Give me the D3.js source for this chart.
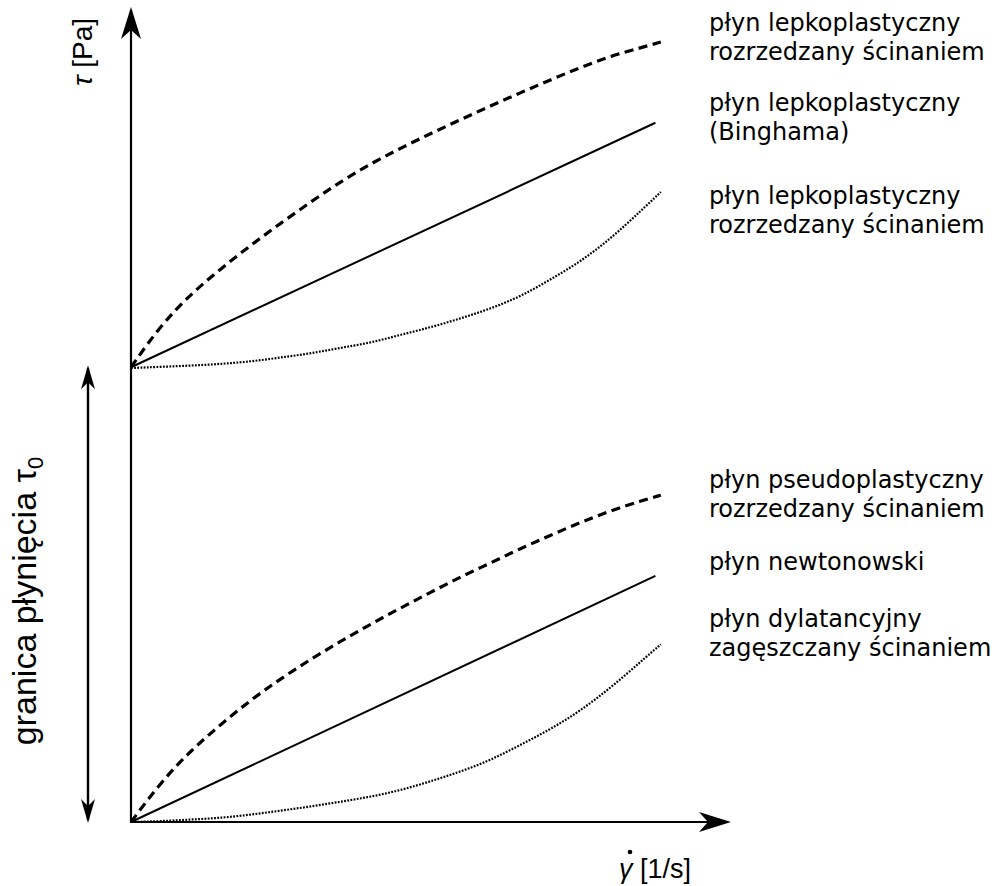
<!DOCTYPE html>
<html>
<head>
<meta charset="utf-8">
<script src="https://cdn.jsdelivr.net/npm/d3@7"></script>
<style>
  body { margin: 0; background: #fff; }
  svg { display: block; }
</style>
</head>
<body>
<svg></svg>
<script>
// shear rate grid (arbitrary units) shared by the curved series
let gammaGrid = [0, 0.5, 1, 1.5, 2, 2.5, 3, 3.5, 4, 4.5, 5, 5.5, 6, 6.5, 7, 7.5, 8, 8.5, 8.83];
let gammaLinear = [0, 8.74];

// shear stress values
let tauViscoplasticThinning = [5.58, 6.10, 6.48, 6.79, 7.08, 7.35, 7.61, 7.86, 8.08, 8.27, 8.45, 8.62, 8.79, 8.95, 9.11, 9.26, 9.40, 9.50, 9.57];
let tauBingham = [5.58, 8.58];
let tauViscoplasticThickening = [5.57, 5.585, 5.60, 5.62, 5.65, 5.70, 5.75, 5.82, 5.88, 5.98, 6.07, 6.18, 6.30, 6.45, 6.66, 6.88, 7.16, 7.50, 7.73];
let tauPseudoplastic = [0, 0.49, 0.88, 1.20, 1.50, 1.76, 2.00, 2.22, 2.43, 2.63, 2.82, 3.01, 3.18, 3.36, 3.52, 3.68, 3.82, 3.94, 4.01];
let tauNewtonian = [0, 3.02];
let tauDilatant = [0, 0.01, 0.03, 0.05, 0.09, 0.14, 0.19, 0.25, 0.31, 0.39, 0.50, 0.62, 0.76, 0.95, 1.14, 1.37, 1.65, 1.97, 2.18];

let tauYield = 5.58;
let axisMax = 10;

// labels, one array of lines per curve
let labelLines = [
    ["płyn lepkoplastyczny", "rozrzedzany ścinaniem"],
    ["płyn lepkoplastyczny", "(Binghama)"],
    ["płyn lepkoplastyczny", "rozrzedzany ścinaniem"],
    ["płyn pseudoplastyczny", "rozrzedzany ścinaniem"],
    ["płyn newtonowski"],
    ["płyn dylatancyjny", "zagęszczany ścinaniem"]
];
let labelBaselines = [31, 111, 204, 488, 570, 627];

let width = 1004;
let height = 886;

let svg = d3.select("svg")
    .attr("width", width)
    .attr("height", height);

let xScale = d3.scaleLinear().domain([0, axisMax]).range([131, 731]);
let yScale = d3.scaleLinear().domain([0, axisMax]).range([822, 7]);

let defs = svg.append("defs");

// arrow tip sits 3px past the end of the line so the stroke never pokes out
let makeArrow = (id, len, half, notch) => {
    defs.append("marker")
        .attr("id", id)
        .attr("markerUnits", "userSpaceOnUse")
        .attr("viewBox", (-len - 2) + " " + (-half - 2) + " " + (len + 4) + " " + (2 * half + 4))
        .attr("markerWidth", len + 4)
        .attr("markerHeight", 2 * half + 4)
        .attr("refX", -3)
        .attr("refY", 0)
        .attr("orient", "auto-start-reverse")
        .append("path")
        .attr("d", "M0,0L" + (-len) + "," + (-half) + "L" + (-notch) + ",0L" + (-len) + "," + half + "Z")
        .attr("fill", "#000");
};
makeArrow("bigArrow", 32, 10, 23);
makeArrow("smallArrow", 24, 7, 17);

// axes
svg.append("line")
    .attr("x1", xScale(0) - 1).attr("y1", yScale(0))
    .attr("x2", xScale(axisMax) - 3).attr("y2", yScale(0))
    .attr("stroke", "#000").attr("stroke-width", 2.2)
    .attr("marker-end", "url(#bigArrow)");

svg.append("line")
    .attr("x1", xScale(0)).attr("y1", yScale(0) + 1)
    .attr("x2", xScale(0)).attr("y2", yScale(axisMax) + 3)
    .attr("stroke", "#000").attr("stroke-width", 2.2)
    .attr("marker-end", "url(#bigArrow)");

// yield stress double arrow
svg.append("line")
    .attr("x1", 88).attr("y1", yScale(0) - 2)
    .attr("x2", 88).attr("y2", yScale(tauYield) + 1)
    .attr("stroke", "#000").attr("stroke-width", 2.4)
    .attr("marker-start", "url(#smallArrow)")
    .attr("marker-end", "url(#smallArrow)");

// curves
let series = [
    { xs: gammaGrid, ys: tauViscoplasticThinning, style: "dashed" },
    { xs: gammaLinear, ys: tauBingham, style: "solid" },
    { xs: gammaGrid, ys: tauViscoplasticThickening, style: "dotted" },
    { xs: gammaGrid, ys: tauPseudoplastic, style: "dashed" },
    { xs: gammaLinear, ys: tauNewtonian, style: "solid" },
    { xs: gammaGrid, ys: tauDilatant, style: "dotted" }
];

let styles = {
    dashed: { width: 3.2, dash: "9,5.5" },
    solid: { width: 2, dash: null },
    dotted: { width: 2.2, dash: "1.8,1.4" }
};

let lineGen = d3.line()
    .x((d) => xScale(d[0]))
    .y((d) => yScale(d[1]))
    .curve(d3.curveBasis);

svg.selectAll("path.curve")
    .data(series)
    .enter()
    .append("path")
    .attr("class", "curve")
    .attr("d", (s) => lineGen(s.xs.map((g, i) => [g, s.ys[i]])))
    .attr("fill", "none")
    .attr("stroke", "#000")
    .attr("stroke-width", (s) => styles[s.style].width)
    .attr("stroke-dasharray", (s) => styles[s.style].dash);

// curve labels
let labels = svg.append("g")
    .attr("font-family", "DejaVu Sans")
    .attr("font-size", 24)
    .attr("fill", "#000");

labelLines.forEach((lines, i) => {
    let t = labels.append("text")
        .attr("x", 709)
        .attr("y", labelBaselines[i]);
    lines.forEach((line, j) => {
        t.append("tspan")
            .attr("x", 709)
            .attr("dy", j === 0 ? 0 : 29)
            .text(line);
    });
});

// axis titles
let yTitle = svg.append("text")
    .attr("transform", "translate(92, 18) rotate(-90)")
    .attr("text-anchor", "end")
    .attr("font-family", "Liberation Sans")
    .attr("font-size", 28);
yTitle.append("tspan").attr("font-style", "italic").text("τ");
yTitle.append("tspan").text(" [Pa]");

let xTitle = svg.append("text")
    .attr("x", 619)
    .attr("y", 878)
    .attr("font-family", "Liberation Sans")
    .attr("font-size", 27);
xTitle.append("tspan").attr("font-style", "italic").text("γ");
xTitle.append("tspan").text(" [1/s]");

// dot over gamma (time derivative)
svg.append("circle")
    .attr("cx", 630)
    .attr("cy", 852)
    .attr("r", 2.3)
    .attr("fill", "#000");

let yieldTitle = svg.append("text")
    .attr("transform", "translate(36, 601) rotate(-90)")
    .attr("text-anchor", "middle")
    .attr("font-family", "Liberation Sans")
    .attr("font-size", 34);
yieldTitle.append("tspan").text("granica płynięcia ");
yieldTitle.append("tspan").text("τ");
yieldTitle.append("tspan").attr("font-size", 22).attr("dy", 7).text("0");
</script>
</body>
</html>
